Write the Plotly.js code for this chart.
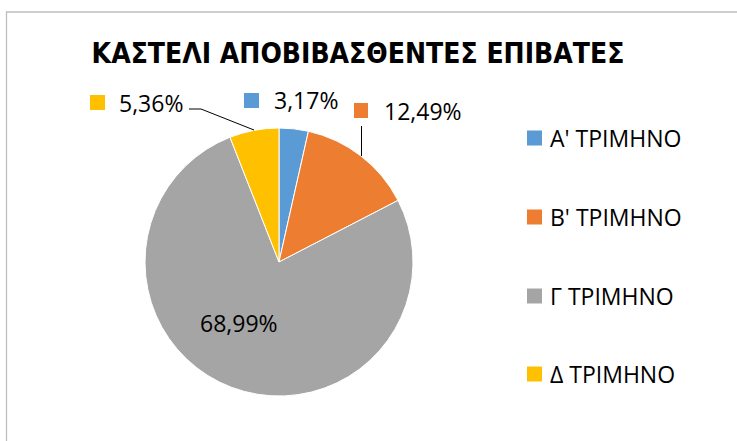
<!DOCTYPE html>
<html>
<head>
<meta charset="utf-8">
<script src="https://cdn.plot.ly/plotly-3.0.1.min.js"></script>
<style>html,body{margin:0;padding:0;background:#fff;}#chart{width:737px;height:441px;}</style>
</head>
<body>
<div id="chart"></div>
<script>
// ---- data ----
const chartTitle = "ΚΑΣΤΕΛΙ ΑΠΟΒΙΒΑΣΘΕΝΤΕΣ ΕΠΙΒΑΤΕΣ";
const quarters = ["A' ΤΡΙΜΗΝΟ", "B' ΤΡΙΜΗΝΟ", "Γ ΤΡΙΜΗΝΟ", "Δ ΤΡΙΜΗΝΟ"];
const shares = [3.17, 12.49, 68.99, 5.36];
const shareLabels = ["3,17%", "12,49%", "68,99%", "5,36%"];
const sliceColors = ["#5B9BD5", "#ED7D31", "#A5A5A5", "#FFC000"];

// ---- layout helpers (pixel -> paper) ----
const W = 737, H = 441;
const px = x => x / W;
const py = y => 1 - y / H;
const labelFont = {family: "Open Sans, Noto Sans, sans-serif", size: 23, color: "#000"};

// pie placement
const cx = 279, cy = 262, R = 134;

const trace = {
  type: "pie",
  labels: quarters,
  values: shares,
  sort: false,
  direction: "clockwise",
  rotation: 0,
  textinfo: "none",
  hoverinfo: "label+percent",
  marker: {colors: sliceColors, line: {color: "#ffffff", width: 1}},
  domain: {x: [px(cx - R), px(cx + R)], y: [py(cy + R), py(cy - R)]},
  showlegend: false
};

// data-label placements (Excel-style positions)
const labelPos = [
  {x: 272, y: 100, key: [244, 259, 93, 108]},
  {x: 382, y: 111, key: [354, 368, 103, 118]},
  {x: 198, y: 323, key: null},
  {x: 117, y: 103, key: [90, 105, 95, 110]}
];
// legend placement
const legendRows = [138, 217, 296, 374];

const annotations = [];
const shapes = [];

// chart border
shapes.push({type: "rect", xref: "paper", yref: "paper",
  x0: px(6.5), x1: 1.05, y0: -0.05, y1: py(12),
  line: {color: "#BFBFBF", width: 1.3}, fillcolor: "rgba(0,0,0,0)", layer: "below"});

shareLabels.forEach((t, i) => {
  const p = labelPos[i];
  annotations.push({xref: "paper", yref: "paper", x: px(p.x), y: py(p.y),
    xanchor: "left", yanchor: "middle", text: t, showarrow: false, font: labelFont});
  if (p.key) {
    shapes.push({type: "rect", xref: "paper", yref: "paper",
      x0: px(p.key[0]), x1: px(p.key[1]), y0: py(p.key[3]), y1: py(p.key[2]),
      fillcolor: sliceColors[i], line: {width: 0}});
  }
});

// leader lines
shapes.push({type: "path", xref: "paper", yref: "paper",
  path: `M ${px(189)} ${py(109)} L ${px(201)} ${py(109)} L ${px(254)} ${py(130)}`,
  line: {color: "#000", width: 1}});
shapes.push({type: "line", xref: "paper", yref: "paper",
  x0: px(361.5), x1: px(361.5), y0: py(126), y1: py(156),
  line: {color: "#000", width: 1}});

// legend
quarters.forEach((q, i) => {
  const yc = legendRows[i];
  shapes.push({type: "rect", xref: "paper", yref: "paper",
    x0: px(527), x1: px(542), y0: py(yc + 7.5), y1: py(yc - 7.5),
    fillcolor: sliceColors[i], line: {width: 0}});
  annotations.push({xref: "paper", yref: "paper", x: px(548), y: py(yc),
    xanchor: "left", yanchor: "middle", text: q, showarrow: false, font: labelFont});
});

const layout = {
  width: W, height: H,
  margin: {l: 0, r: 0, t: 0, b: 0},
  paper_bgcolor: "#ffffff",
  title: {text: "<b>" + chartTitle + "</b>", x: px(358), xanchor: "center",
    y: py(53), yanchor: "middle",
    font: {family: "Liberation Sans Narrow, DejaVu Sans Condensed, sans-serif", size: 28, color: "#000"}},
  showlegend: false,
  annotations: annotations,
  shapes: shapes
};

Plotly.newPlot("chart", [trace], layout, {displayModeBar: false, staticPlot: true});
</script>
</body>
</html>
